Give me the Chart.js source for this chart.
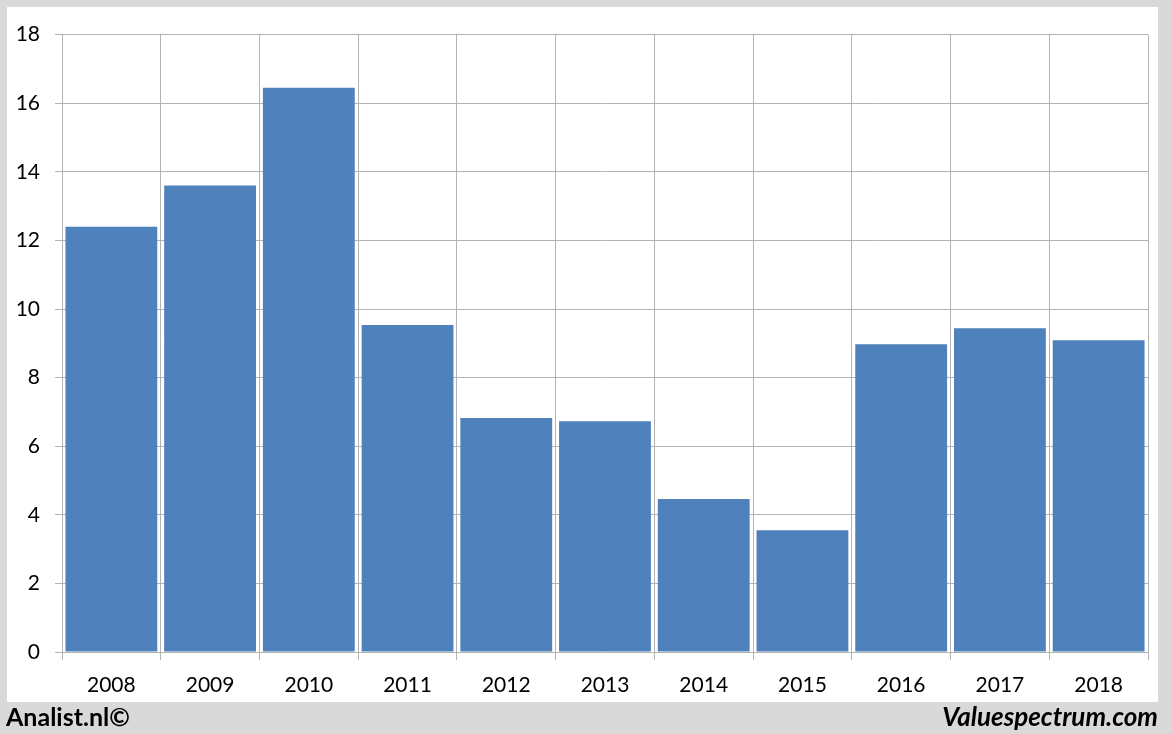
<!DOCTYPE html>
<html>
<head>
<meta charset="utf-8">
<script src="https://cdn.jsdelivr.net/npm/chart.js@4"></script>
<style>
    body { margin: 0; background: #d9d9d9; width: 1172px; height: 734px; position: relative; overflow: hidden; font-family: Lato, 'Open Sans', sans-serif; }
    #panel { position: absolute; left: 7px; top: 7px; width: 1151px; height: 695px; background: #ffffff; }
    .foot { position: absolute; top: 700px; font-size: 26px; line-height: 32px; font-weight: bold; color: #000; }
    #left { left: 6px; font-size: 25px; }
    #right { right: 14px; font-style: italic; }
</style>
</head>
<body>
<div id="panel"><canvas id="chart"></canvas></div>
<div class="foot" id="left">Analist.nl©</div>
<div class="foot" id="right">Valuespectrum.com</div>
<script>
// values
const years = ['2008', '2009', '2010', '2011', '2012', '2013', '2014', '2015', '2016', '2017', '2018'];
const values = [12.4, 13.6, 16.45, 9.53, 6.82, 6.73, 4.46, 3.55, 8.97, 9.44, 9.09];
const yTicks = [0, 2, 4, 6, 8, 10, 12, 14, 16, 18];

const gridColor = '#b3b3b3';
const labelFont = { family: "Lato, 'Open Sans', sans-serif", size: 21 };

new Chart(document.getElementById('chart').getContext('2d'), {
    type: 'bar',
    data: {
        labels: years,
        datasets: [{
            data: values,
            backgroundColor: '#4f81bd',
            borderWidth: 0,
            barPercentage: 0.93,
            categoryPercentage: 1.0
        }]
    },
    options: {
        responsive: true,
        maintainAspectRatio: false,
        animation: false,
        layout: { padding: { top: 27, right: 10, left: 0, bottom: 0 } },
        plugins: {
            legend: { display: false },
            tooltip: { enabled: false }
        },
        scales: {
            x: {
                offset: true,
                grid: { color: gridColor, offset: true, tickLength: 8, lineWidth: 1 },
                border: { color: gridColor },
                ticks: { color: '#000', font: labelFont, padding: 13, maxRotation: 0 },
                afterFit: (scale) => { scale.height = 50; }
            },
            y: {
                min: 0,
                max: 18,
                afterBuildTicks: (scale) => { scale.ticks = yTicks.map(v => ({ value: v })); },
                grid: { color: gridColor, tickLength: 7, lineWidth: 1 },
                border: { color: gridColor },
                ticks: { color: '#000', font: labelFont, padding: 15 },
                afterFit: (scale) => { scale.width = 55; }
            }
        }
    }
});
</script>
</body>
</html>
